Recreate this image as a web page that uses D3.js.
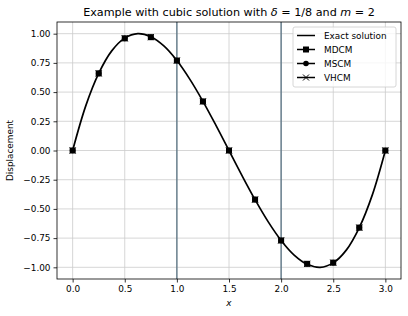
<!DOCTYPE html>
<html>
<head>
<meta charset="utf-8">
<script src="https://cdn.jsdelivr.net/npm/d3@7"></script>
<style>
  body { margin: 0; background: #fff; }
  text { font-family: "DejaVu Sans", sans-serif; fill: #000; }
</style>
</head>
<body>
<div class="chart"></div>
<script>
const width = 408;
const height = 316;

// exact solution, every 0.125
const exactX = [0, 0.125, 0.25, 0.375, 0.5, 0.625, 0.75, 0.875, 1, 1.125, 1.25, 1.375, 1.5,
  1.625, 1.75, 1.875, 2, 2.125, 2.25, 2.375, 2.5, 2.625, 2.75, 2.875, 3];
const exactY = [0, 0.38, 0.66, 0.853, 0.962, 1.0, 0.974, 0.895, 0.77, 0.609, 0.421, 0.215, 0,
  -0.215, -0.421, -0.609, -0.77, -0.895, -0.974, -1.0, -0.962, -0.853, -0.66, -0.38, 0];

// collocation nodes
const nodeX = [0, 0.25, 0.5, 0.75, 1, 1.25, 1.5, 1.75, 2, 2.25, 2.5, 2.75, 3];
const mdcm = [0, 0.66, 0.96, 0.97, 0.77, 0.42, 0, -0.42, -0.77, -0.97, -0.96, -0.66, 0];
const mscm = [0, 0.66, 0.96, 0.97, 0.77, 0.42, 0, -0.42, -0.77, -0.97, -0.96, -0.66, 0];
const vhcm = [0, 0.66, 0.96, 0.97, 0.77, 0.42, 0, -0.42, -0.77, -0.97, -0.96, -0.66, 0];

const xTicks = [0, 0.5, 1, 1.5, 2, 2.5, 3];
const yTicks = [-1, -0.75, -0.5, -0.25, 0, 0.25, 0.5, 0.75, 1];
const interfaces = [1, 2];
const legendLabels = ['Exact solution', 'MDCM', 'MSCM', 'VHCM'];

const margin = { left: 57, right: 7, top: 22, bottom: 37 };

const svg = d3
  .select('.chart')
  .append('svg')
  .attr('width', width)
  .attr('height', height);

const x = d3.scaleLinear().domain([-0.15, 3.15]).range([margin.left, width - margin.right]);
const y = d3.scaleLinear().domain([-1.1, 1.1]).range([height - margin.bottom, margin.top]);

// grid
svg.append('g')
  .selectAll('line')
  .data(xTicks)
  .join('line')
  .attr('x1', (d) => x(d)).attr('x2', (d) => x(d))
  .attr('y1', y.range()[0]).attr('y2', y.range()[1])
  .attr('stroke', '#cbcbcb').attr('stroke-width', 0.8);

svg.append('g')
  .selectAll('line')
  .data(yTicks)
  .join('line')
  .attr('y1', (d) => y(d)).attr('y2', (d) => y(d))
  .attr('x1', x.range()[0]).attr('x2', x.range()[1])
  .attr('stroke', '#cbcbcb').attr('stroke-width', 0.8);

// subdomain interfaces
svg.append('g')
  .selectAll('line')
  .data(interfaces)
  .join('line')
  .attr('x1', (d) => x(d)).attr('x2', (d) => x(d))
  .attr('y1', y.range()[0]).attr('y2', y.range()[1])
  .attr('stroke', '#587282').attr('stroke-width', 1.3);

// axes
const xAxis = svg.append('g')
  .attr('transform', `translate(0,${height - margin.bottom})`)
  .call(d3.axisBottom(x).tickValues(xTicks).tickFormat(d3.format('.1f')).tickSize(3.5).tickPadding(3));
const yAxis = svg.append('g')
  .attr('transform', `translate(${margin.left},0)`)
  .call(d3.axisLeft(y).tickValues(yTicks).tickFormat((d) => d3.format('.2f')(d).replace('-', '\u2212')).tickSize(3.5).tickPadding(3));
[xAxis, yAxis].forEach((a) => {
  a.select('.domain').remove();
  a.selectAll('text').style('font-size', '8.9px').style('font-family', 'DejaVu Sans');
  a.selectAll('line').attr('stroke', '#000').attr('stroke-width', 0.8);
});

// frame
svg.append('rect')
  .attr('x', x.range()[0]).attr('y', y.range()[1])
  .attr('width', x.range()[1] - x.range()[0])
  .attr('height', y.range()[0] - y.range()[1])
  .attr('fill', 'none').attr('stroke', '#000').attr('stroke-width', 0.8);

// exact solution
const line = d3.line().x((d, i) => x(exactX[i])).y((d) => y(d)).curve(d3.curveCatmullRom);
svg.append('path')
  .datum(exactY)
  .attr('d', line)
  .attr('fill', 'none').attr('stroke', '#000').attr('stroke-width', 1.7);

const sq = 6;
svg.append('g').selectAll('rect').data(mdcm).join('rect')
  .attr('x', (d, i) => x(nodeX[i]) - sq / 2).attr('y', (d) => y(d) - sq / 2)
  .attr('width', sq).attr('height', sq).attr('fill', '#000');
svg.append('g').selectAll('circle').data(mscm).join('circle')
  .attr('cx', (d, i) => x(nodeX[i])).attr('cy', (d) => y(d)).attr('r', 2.8).attr('fill', '#000');
svg.append('g').selectAll('path').data(vhcm).join('path')
  .attr('transform', (d, i) => `translate(${x(nodeX[i])},${y(d)})`)
  .attr('d', 'M-3,-3L3,3M-3,3L3,-3').attr('stroke', '#000').attr('stroke-width', 1);

// title and labels
const title = svg.append('text')
  .attr('x', (x.range()[0] + x.range()[1]) / 2).attr('y', 16)
  .attr('text-anchor', 'middle').style('font-size', '11.2px');
title.append('tspan').text('Example with cubic solution with ');
title.append('tspan').style('font-style', 'italic').text('\u03b4');
title.append('tspan').text(' = 1/8 and ');
title.append('tspan').style('font-style', 'italic').text('m');
title.append('tspan').text(' = 2');

svg.append('text')
  .attr('x', (x.range()[0] + x.range()[1]) / 2).attr('y', 306)
  .attr('text-anchor', 'middle').style('font-size', '8.9px').style('font-style', 'italic')
  .text('x');

svg.append('text')
  .attr('transform', `translate(13,${y(0)}) rotate(-90)`)
  .attr('text-anchor', 'middle').style('font-size', '8.9px')
  .text('Displacement');

// legend
const lg = svg.append('g').attr('transform', 'translate(293,27)');
lg.append('rect')
  .attr('width', 103).attr('height', 60).attr('rx', 2)
  .attr('fill', '#fff').attr('fill-opacity', 0.8)
  .attr('stroke', '#ccc').attr('stroke-width', 0.8);
legendLabels.forEach((name, i) => {
  const cy = 8.5 + i * 14;
  const g = lg.append('g').attr('transform', `translate(0,${cy})`);
  g.append('line').attr('x1', 4).attr('x2', 22).attr('stroke', '#000').attr('stroke-width', 1.5);
  if (i === 1) g.append('rect').attr('x', 10).attr('y', -3).attr('width', 6).attr('height', 6).attr('fill', '#000');
  if (i === 2) g.append('circle').attr('cx', 13).attr('r', 2.8).attr('fill', '#000');
  if (i === 3) g.append('path').attr('d', 'M10,-3L16,3M10,3L16,-3').attr('stroke', '#000').attr('stroke-width', 1);
  g.append('text').attr('x', 31).attr('y', 3.2).style('font-size', '8.9px').text(name);
});
</script>
</body>
</html>
